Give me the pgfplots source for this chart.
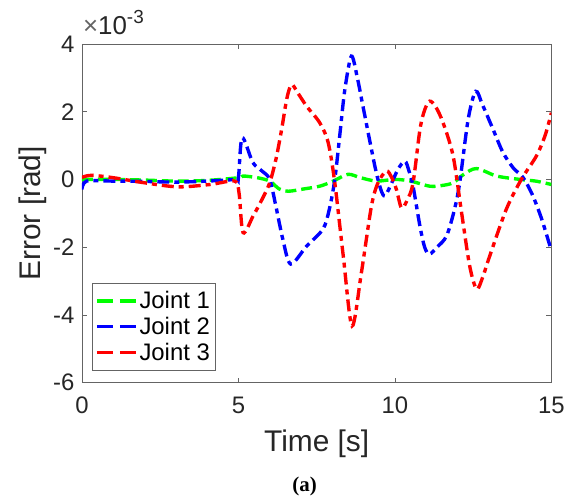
\documentclass[border=0pt]{standalone}
\usepackage{pgfplots}
\pgfplotsset{compat=1.18}
\usepackage{fontspec}
\setmainfont{Liberation Sans}
\newfontfamily\capfont{Liberation Serif}
\definecolor{axgray}{RGB}{100,100,100}
\definecolor{txt}{RGB}{38,38,38}
\begin{document}
\begin{tikzpicture}
\begin{axis}[
  scale only axis, width=470bp, height=339bp,
  xmin=0, xmax=15, ymin=-6, ymax=4,
  xtick={0,5,10,15}, ytick={-6,-4,-2,0,2,4},
  tick align=inside, major tick length=5bp,
  axis line style={axgray, line width=0.6pt},
  every tick/.style={axgray, line width=0.6pt},
  /pgf/number format/assume math mode=true,
  tick label style={font=\fontsize{24}{24}\selectfont, text=txt},
  xticklabel style={yshift=-11bp},
  yticklabel style={xshift=-4bp},
  label style={font=\fontsize{30}{30}\selectfont, text=txt},
  xlabel style={yshift=-9bp},
  xlabel={Time [s]}, ylabel={Error [rad]},
  legend style={at={(axis description cs:0,0)}, anchor=south west, xshift=10bp, yshift=12bp,
    font=\fontsize{24}{26}\selectfont, draw=axgray, line width=0.6pt, inner xsep=3bp, inner ysep=5bp,
    nodes={inner ysep=3.5bp}},
  legend cell align=left,
  legend image code/.code={\draw[#1, dash pattern=on 16bp off 7bp] (0bp,0bp) -- (39bp,0bp);},
  clip mode=individual,
]
\addplot[green, line width=3.4pt, dash pattern=on 11bp off 5bp, smooth, tension=0.5] coordinates {
(0,0)(1,0.0)(2,-0.02)(3,-0.05)(4,-0.03)(5,0.05)(5.15,0.1)(5.6,0.05)(6,-0.05)(6.3,-0.28)(6.59,-0.35)(7.1,-0.28)(7.6,-0.2)(8.03,-0.05)(8.5,0.15)(8.9,0.05)(9.41,-0.05)(10,0)(10.5,-0.05)(11.11,-0.2)(11.5,-0.18)(11.86,-0.1)(12.2,0.15)(12.61,0.32)(13.25,0.1)(13.99,0)(14.5,-0.05)(15,-0.15)};
\addlegendentry{Joint 1}
\addplot[blue, line width=3.4pt, dash pattern=on 12bp off 5bp on 5bp off 5bp, smooth, tension=0.5] coordinates {
(0,-0.3)(0.15,-0.05)(1,-0.05)(2,-0.06)(3,-0.08)(4,-0.05)(4.9,0.0)(5.0,0.05)(5.12,1.23)(5.46,0.5)(5.75,0.25)(6.0,0)(6.2,-0.8)(6.42,-1.77)(6.67,-2.5)(7.18,-1.97)(7.7,-1.47)(7.9,-0.9)(8.08,0)(8.25,1.4)(8.4,2.65)(8.61,3.64)(8.8,3.0)(8.98,2.16)(9.36,0.39)(9.55,-0.3)(9.68,-0.49)(9.85,-0.2)(10.1,0.3)(10.32,0.54)(10.45,0.25)(10.58,-0.2)(10.8,-1.38)(10.95,-2.0)(11.1,-2.21)(11.35,-2.0)(11.65,-1.67)(11.9,-0.9)(12.07,-0.1)(12.34,1.77)(12.58,2.6)(12.8,2.2)(13.14,1.47)(13.45,0.8)(13.78,0.34)(14.1,0.05)(14.41,-0.49)(14.7,-1.2)(15,-2.11)};
\addlegendentry{Joint 2}
\addplot[red, line width=3.4pt, dash pattern=on 12bp off 5bp on 5bp off 5bp, smooth, tension=0.5] coordinates {
(0,0.06)(0.3,0.12)(1,0.05)(2,-0.1)(3.07,-0.22)(4.1,-0.15)(4.88,-0.05)(5.02,-0.4)(5.15,-1.57)(5.47,-1.08)(5.75,-0.6)(6.0,-0.1)(6.2,0.6)(6.38,1.47)(6.55,2.4)(6.7,2.8)(6.9,2.55)(7.18,2.16)(7.6,1.67)(7.87,1.08)(8.08,-0.1)(8.35,-2.26)(8.63,-4.33)(8.93,-2.75)(9.25,-0.79)(9.46,-0.1)(9.73,0.25)(9.9,0.05)(10.05,-0.3)(10.21,-0.84)(10.4,-0.6)(10.58,-0.1)(10.8,1.47)(10.95,2.05)(11.11,2.31)(11.3,2.15)(11.54,1.67)(11.86,0.69)(12.13,-0.98)(12.39,-2.56)(12.61,-3.24)(12.8,-2.9)(13.03,-2.26)(13.56,-0.88)(14.04,0)(14.52,0.69)(14.8,1.3)(15,1.97)};
\addlegendentry{Joint 3}
\node[anchor=base west, inner sep=0pt, text=txt, font=\fontsize{26}{28}\selectfont] at ([xshift=1bp,yshift=9bp]rel axis cs:0,1) {\textcolor{axgray}{×}10\raisebox{11bp}{\fontsize{19}{20}\selectfont -3}};
\node[anchor=center, inner sep=0pt, font=\capfont\bfseries\fontsize{21}{24}\selectfont] at ([xshift=-12bp,yshift=-104bp]rel axis cs:0.5,0) {(a)};
\coordinate (ll) at (rel axis cs:0,0);
\coordinate (ur) at (rel axis cs:1,1);
\end{axis}
\path ([shift={(-82bp,-119bp)}]ll) rectangle ([shift={(16bp,44bp)}]ur);
\end{tikzpicture}
\end{document}
